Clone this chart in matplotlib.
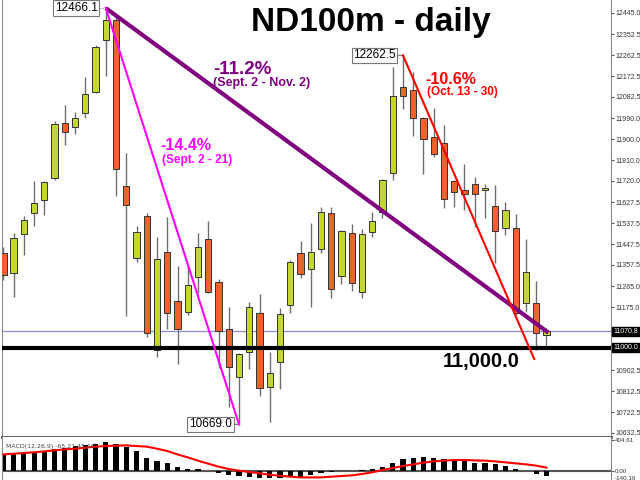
import matplotlib
matplotlib.use("Agg")
import matplotlib.pyplot as plt
import numpy as np

# daily candles (oldest first)
opens = [11409, 11323, 11491, 11582, 11638, 11733, 11970, 11953, 12014, 12104,
         12329, 12415, 11699, 11388, 11569, 10990, 11414, 11202, 11155, 11306,
         11470, 11284, 11082, 10874, 10982, 11151, 10831, 10939, 11185, 11409,
         11340, 11427, 11582, 11310, 11496, 11241, 11500, 11586, 11755, 12126,
         12113, 11992, 11910, 11884, 11720, 11681, 11707, 11684, 11612, 11517,
         11517, 11194, 11194, 11058]
highs = [11435, 11496, 11569, 11720, 11722, 11979, 12048, 12018, 12169, 12307,
         12466.1, 12428, 11841, 11526, 11582, 11479, 11565, 11353, 11358, 11496,
         11548, 11297, 11176, 10978, 11198, 11232, 10982, 11172, 11379, 11461,
         11539, 11608, 11608, 11509, 11535, 11513, 11586, 11729, 12212, 12262.5,
         12190, 11996, 12035, 11962, 11724, 11793, 11737, 11707, 11703, 11629,
         11578, 11470, 11289, 11086]
lows = [11293, 11220, 11401, 11526, 11573, 11724, 11876, 11923, 11992, 12100,
        12173, 11655, 11138, 11371, 11047, 10961, 11082, 10930, 11142, 11237,
        11237, 10913, 10745, 10669, 10909, 10792, 10680, 10823, 11151, 11302,
        11176, 11409, 11215, 11276, 11245, 11215, 11479, 11561, 11724, 12031,
        11914, 11750, 11824, 11604, 11608, 11595, 11522, 11561, 11366, 11487,
        11142, 11155, 10991, 11000]
closes = [11314, 11474, 11552, 11625, 11716, 11966, 11932, 11992, 12096, 12298,
          12415, 11772, 11617, 11500, 11064, 11384, 11151, 11082, 11271, 11435,
          11241, 11073, 10918, 10974, 11176, 10827, 10892, 11146, 11371, 11319,
          11414, 11586, 11254, 11504, 11280, 11491, 11548, 11724, 12087, 12087,
          11992, 11901, 11837, 11642, 11673, 11664, 11664, 11688, 11504, 11595,
          11151, 11327, 11064, 11070.8]

macd_hist = [217, 230, 239, 252, 261, 287, 305, 326, 339, 357,
             383, 352, 318, 261, 174, 135, 100, 48, 26, 22,
             4, -30, -52, -65, -83, -96, -96, -96, -83, -74,
             -52, -25, -8, -3, 3, 13, 26, 57, 109, 152,
             174, 178, 174, 152, 144, 135, 109, 100, 87, 70,
             22, 2, -43, -65.21]
macd_signal = [217, 226, 235, 244, 257, 270, 283, 291, 305, 318,
               326, 331, 335, 326, 318, 291, 261, 217, 178, 135,
               96, 57, 26, 4, -13, -30, -48, -61, -74, -83,
               -83, -83, -74, -65, -57, -39, -17, 13, 39, 65,
               87, 109, 126, 135, 144, 144, 139, 135, 126, 113,
               100, 87, 70, 45.16]

price_ticks = [12445.0, 12352.5, 12262.5, 12172.5, 12082.5, 11990.0, 11900.0,
               11810.0, 11720.0, 11627.5, 11537.5, 11447.5, 11357.5, 11265.0,
               11175.0, 10902.5, 10812.5, 10722.5, 10632.5]
support = 11000.0
last_price = 11070.8
purple_end = 11065      # where the Sept-Nov line stops on the last bar
red_end = 10952         # where the Oct line stops

GREEN = "#c4d632"
ORANGE = "#f0622a"
TICKFONT = dict(family="Liberation Sans", fontsize=5)

x = np.arange(len(opens))
o = np.array(opens); c = np.array(closes)
h = np.array(highs); l = np.array(lows)
up = c >= o

fig = plt.figure(figsize=(6.4, 4.8), dpi=100)
ax = fig.add_axes([2/640, 1 - 437/480, 609/640, 437/480])
mx = fig.add_axes([2/640, 0, 609/640, 43/480], sharex=ax)

# candles
ax.vlines(x, l, h, color="#6e6e6e", lw=1, zorder=2)
ax.bar(x, np.abs(c - o) + 2, bottom=np.minimum(o, c) - 1, width=0.62,
       color=np.where(up, GREEN, ORANGE), edgecolor="#333333", lw=0.7, zorder=3)

ax.axhline(support, color="black", lw=3, zorder=4)
ax.axhline(last_price, color="#8c8cd6", lw=0.9, zorder=1)

# trend lines
ax.plot([10, 53.2], [highs[10], purple_end], color="#800080", lw=3, zorder=5,
        solid_capstyle="butt")
ax.plot([10, 23], [highs[10], lows[23]], color="#ff00ff", lw=1.5, zorder=5)
ax.plot([39, 51.8], [highs[39], red_end], color="#ff0000", lw=1.5, zorder=5)

ax.set_xlim(-0.13, 59.3)
ax.set_ylim(10615, 12501)

# texts
ax.text(35.9, 12406, "ND100m - daily", ha="center", va="center",
        fontsize=24, fontweight="bold", family="Liberation Sans")
ax.text(20.5, 12199, "-11.2%", color="#800080", fontsize=13.5,
        fontweight="bold", family="Liberation Sans", va="center")
ax.text(20.5, 12143, "(Sept. 2 - Nov. 2)", color="#800080", fontsize=9,
        fontweight="bold", family="Liberation Sans", va="center")
ax.text(15.3, 11875, "-14.4%", color="#ff00ff", fontsize=11.5,
        fontweight="bold", family="Liberation Sans", va="center")
ax.text(15.5, 11811, "(Sept. 2 - 21)", color="#ff00ff", fontsize=8.5,
        fontweight="bold", family="Liberation Sans", va="center")
ax.text(41.2, 12156, "-10.6%", color="#ff0000", fontsize=11.5,
        fontweight="bold", family="Liberation Sans", va="center")
ax.text(41.3, 12104, "(Oct. 13 - 30)", color="#ff0000", fontsize=8.5,
        fontweight="bold", family="Liberation Sans", va="center")
ax.text(42.9, 10943, "11,000.0", color="black", fontsize=14.5,
        fontweight="bold", family="Liberation Sans", va="center")

box = dict(facecolor="white", edgecolor="#777777", lw=0.8, pad=1.2)
ax.text(9.2, highs[10], "12466.1", ha="right", va="center", fontsize=8.5,
        family="Liberation Sans", bbox=box, zorder=6)
ax.plot([9.3, 10], [highs[10], highs[10]], color="#777777", lw=0.8, ls=":")
ax.text(38.3, highs[39], "12262.5", ha="right", va="center", fontsize=8.5,
        family="Liberation Sans", bbox=box, zorder=6)
ax.plot([38.4, 39], [highs[39], highs[39]], color="#777777", lw=0.8)
ax.text(22.3, lows[23], "10669.0", ha="right", va="center", fontsize=8.5,
        family="Liberation Sans", bbox=box, zorder=6)
ax.plot([22.4, 23], [lows[23], lows[23]], color="#777777", lw=0.8)

# right axis
ax.yaxis.tick_right()
ax.set_yticks(price_ticks)
ax.set_yticklabels([f"{v:.1f}" for v in price_ticks], **TICKFONT)
ax.tick_params(axis="y", length=2, pad=1, colors="#555555",
               labelcolor="#333333")
ax.tick_params(axis="x", bottom=False, labelbottom=False)
for v in (last_price, support):
    ax.text(1.004, v, f"{v:.1f}", transform=ax.get_yaxis_transform(),
            color="white", va="center", ha="left",
            bbox=dict(facecolor="black", edgecolor="black", pad=0.8),
            clip_on=False, zorder=10, **TICKFONT)
ax.spines["top"].set_visible(False)
ax.spines["left"].set_color("#888888")
ax.spines["right"].set_color("#888888")
ax.spines["bottom"].set_color("#555555")
ax.spines["bottom"].set_linewidth(2)

# MACD panel
mx.bar(x, macd_hist, width=0.5, color="black", zorder=2)
mx.plot(x, macd_signal, color="red", lw=1.5, zorder=3)
mx.axhline(0, color="#555555", lw=1.5, zorder=1)
mx.set_ylim(-117, 444)
mx.yaxis.tick_right()
mx.set_yticks([404.61, 0.0])
mx.set_yticklabels(["404.61", "0.00"], family="Liberation Sans", fontsize=4.5)
mx.tick_params(axis="y", length=2, pad=1, colors="#555555",
               labelcolor="#333333")
mx.tick_params(axis="x", bottom=False, labelbottom=False)
mx.text(1.006, -0.03, "-140.19", transform=mx.transAxes, color="#333333",
        va="bottom", family="Liberation Sans", fontsize=4.5)
mx.text(0.006, 0.78, f"MACD(12,26,9) {macd_hist[-1]:.2f} {macd_signal[-1]:.2f}",
        transform=mx.transAxes, fontsize=4.5, color="#444444", va="center")
mx.spines["bottom"].set_visible(False)
mx.spines["top"].set_visible(False)
mx.spines["left"].set_color("#888888")
mx.spines["right"].set_color("#888888")

fig.savefig("out.png", dpi=100)
